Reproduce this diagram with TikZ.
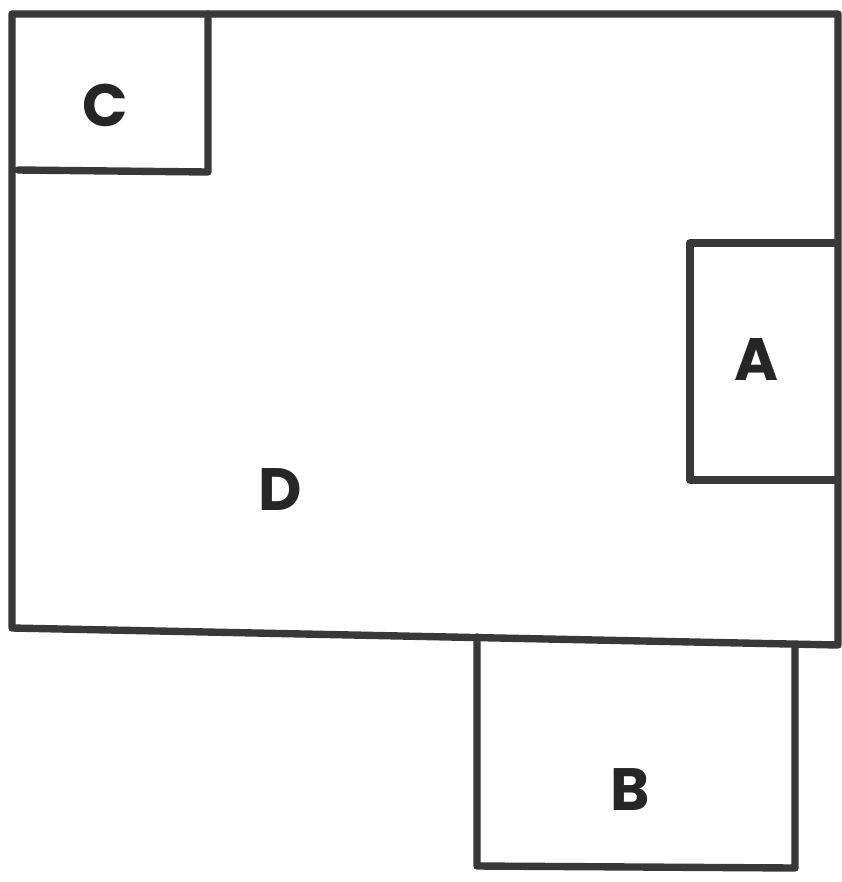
\documentclass[tikz,border=0pt]{standalone}
\usepackage{fontspec}
\setmainfont{Poppins}
\begin{document}
\begin{tikzpicture}[x=0.1mm,y=-0.1mm,
  wall/.style={draw=black!78, line width=2.1pt, line join=round, line cap=round},
  lbl/.style={font=\fontsize{17}{20}\selectfont\bfseries, text=black!85}]
\useasboundingbox (0,0) rectangle (842,882);
% D outer
\draw[wall] (12,14) -- (838,14) -- (838,645) -- (12,628) -- cycle;
% C
\draw[wall] (208,14) -- (208,172) -- (18,170);
% A
\draw[wall] (836,243) -- (690,243) -- (690,480) -- (836,480);
% B
\draw[wall] (477,637) -- (477,866) -- (795,868) -- (795,645);
\node[lbl] (C) at (105,105) {C};
\node[lbl] (A) at (757,360) {A};
\node[lbl] (D) at (280,490) {D};
\node[lbl] (B) at (630,790) {B};
\end{tikzpicture}
\end{document}
